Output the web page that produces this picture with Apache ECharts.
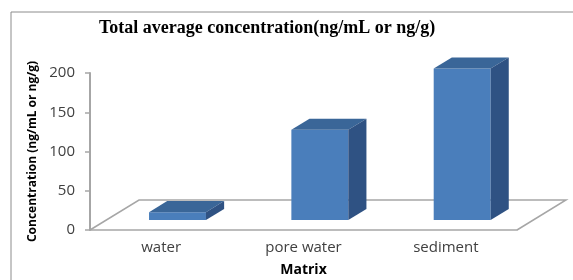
<!DOCTYPE html>
<html>
<head>
<meta charset="utf-8" />
<title>Total average concentration</title>
<script src="https://cdn.jsdelivr.net/npm/echarts@6/dist/echarts.min.js"></script>
</head>
<body style="margin:0">
<div id="main" style="width:573px;height:280px"></div>
<script type="text/javascript">
var matrices = ["water", "pore water", "sediment"];
var concentration = [10, 115, 193];
var yTicks = [0, 50, 100, 150, 200];

var myChart = echarts.init(document.getElementById("main"));

// depth of the fake 3D floor, px
var DX = 49, DY = -30;

function floorItem(params, api) {
  var cs = params.coordSys;
  var x0 = cs.x, x1 = cs.x + cs.width, yb = cs.y + cs.height;
  return {
    type: "polyline",
    shape: { points: [[x0, yb], [x0 + DX, yb + DY], [x1 + DX, yb + DY], [x1, yb]] },
    style: { stroke: "#a6a6a6", lineWidth: 1.5, fill: null }
  };
}

function barItem(params, api) {
  var i = api.value(0);
  var top = api.coord([i, api.value(1)]);
  var base = api.coord([i, 0]);
  var w = api.size([1, 0])[0] * 0.4;
  var ox = DX / 3, oy = DY / 3;
  var dx = DX * 0.37, dy = DY * 0.37;
  var l = top[0] - w / 2 + ox, r = l + w;
  var t = top[1] + oy, b = base[1] + oy;
  return {
    type: "group",
    children: [
      { type: "polygon", shape: { points: [[l, t], [r, t], [r, b], [l, b]] }, style: { fill: "#4a7ebb" } },
      { type: "polygon", shape: { points: [[l, t], [l + dx, t + dy], [r + dx, t + dy], [r, t]] }, style: { fill: "#3a6698" } },
      { type: "polygon", shape: { points: [[r, t], [r + dx, t + dy], [r + dx, b + dy], [r, b]] }, style: { fill: "#2f5283" } }
    ]
  };
}

var option = {
  animation: false,
  backgroundColor: "#ffffff",
  title: {
    text: "Total average concentration(ng/mL or ng/g)",
    left: 94,
    top: 14,
    textStyle: { fontFamily: "Liberation Serif", fontWeight: "bold", fontSize: 18, color: "#000" }
  },
  graphic: [{
    type: "polyline",
    shape: { points: [[11, 280], [11, 12], [573, 12]] },
    style: { stroke: "#8c8c8c", lineWidth: 1, fill: null }
  }],
  grid: { left: 90, right: 56, top: 73, bottom: 50, outerBoundsMode: "none" },
  xAxis: {
    type: "category",
    data: matrices,
    name: "Matrix",
    nameLocation: "middle",
    nameGap: 33,
    nameTextStyle: { fontFamily: "Open Sans", fontWeight: "bold", fontSize: 14, color: "#000" },
    axisLine: { lineStyle: { color: "#a6a6a6", width: 1.5 } },
    axisTick: { length: 5, lineStyle: { color: "#a6a6a6", width: 1.5 } },
    axisLabel: { fontFamily: "Open Sans", fontSize: 15, color: "#404040", margin: 10 }
  },
  yAxis: {
    type: "value",
    min: yTicks[0],
    max: yTicks[yTicks.length - 1],
    interval: yTicks[1] - yTicks[0],
    name: "Concentration (ng/mL or ng/g)",
    nameLocation: "middle",
    nameGap: 51,
    nameRotate: 90,
    nameTextStyle: { fontFamily: "Open Sans", fontWeight: "bold", fontSize: 12, color: "#000" },
    axisLine: { show: true, lineStyle: { color: "#a6a6a6", width: 2 } },
    axisTick: { show: true, length: 5, lineStyle: { color: "#a6a6a6", width: 1.5 } },
    axisLabel: { fontFamily: "Open Sans", fontSize: 15, color: "#404040", margin: 15 },
    splitLine: { show: false }
  },
  series: [
    {
      type: "custom",
      renderItem: floorItem,
      data: [[0, 0]],
      z: 1,
      silent: true
    },
    {
      type: "custom",
      renderItem: barItem,
      data: matrices.map(function (m, i) { return [i, concentration[i]]; }),
      z: 2
    }
  ]
};

myChart.setOption(option);
</script>
</body>
</html>
